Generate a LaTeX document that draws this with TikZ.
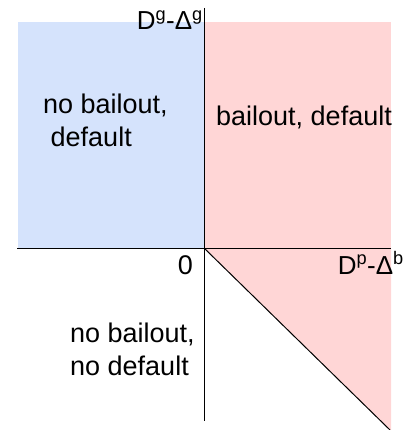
\documentclass[tikz,border=0pt]{standalone}
\usepackage{fontspec}
\setmainfont{Liberation Sans}
\definecolor{lblue}{RGB}{213,227,252}
\definecolor{lpink}{RGB}{255,214,214}
\begin{document}
\begin{tikzpicture}[x=1pt,y=-1pt,
  axis/.style={draw=black,line width=1pt},
  region/.style={inner sep=0pt,font=\fontsize{27}{33}\selectfont},
  axlabel/.style={inner sep=0pt,font=\fontsize{26}{30}\selectfont}]
\useasboundingbox (0,0) rectangle (403,430);
\fill[lblue] (18,22) rectangle (204,248);
\fill[lpink] (204,22) rectangle (391,248);
\fill[lpink] (204,248) -- (391,248) -- (391,430) -- (390,430) -- cycle;
\coordinate (O) at (204,248);
\coordinate (xl) at (17,248);
\coordinate (xr) at (391,248);
\coordinate (yt) at (204,8);
\coordinate (yb) at (204,421);
\coordinate (de) at (390,430);
\draw[axis] (xl) -- (xr);
\draw[axis] (yt) -- (yb);
\draw[line width=1pt] (O) -- (de);
\node[axlabel,anchor=base east] (ylab) at (203,30) {D\textsuperscript{g}-Δ\textsuperscript{g}};
\node[axlabel,anchor=base east] (xlab) at (404,274) {D\textsuperscript{p}-Δ\textsuperscript{b}};
\node[region,anchor=base east] (zero) at (193,274) {0};
\node[region,anchor=base west] (a1) at (43,114) {no bailout,};
\node[region,anchor=base west] (a2) at (43,147) {\ default};
\node[region,anchor=base west] (b1) at (216,126) {bailout, default};
\node[region,anchor=base west] (c1) at (70,342) {no bailout,};
\node[region,anchor=base west] (c2) at (70,375) {no default};
\end{tikzpicture}
\end{document}
